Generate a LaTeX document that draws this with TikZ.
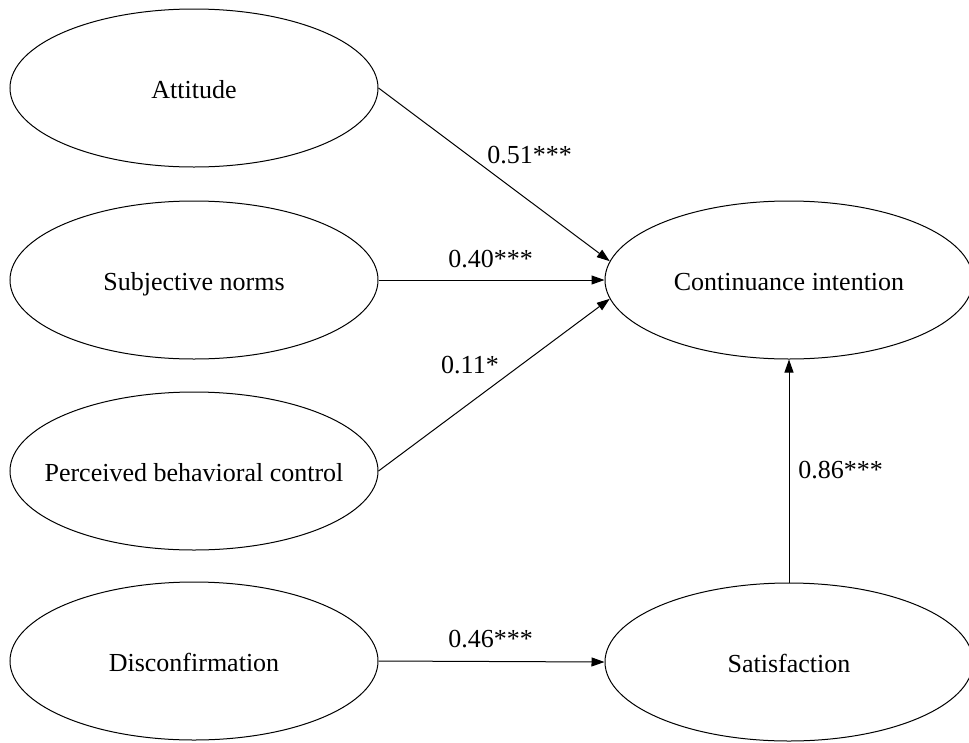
\documentclass[tikz,border=0pt]{standalone}
\usepackage{fontspec}
\setmainfont{Liberation Serif}
\usetikzlibrary{shapes.geometric,arrows.meta}
\newcommand{\ctrtext}[1]{\makebox[0pt][c]{#1}}
\begin{document}
\begin{tikzpicture}[x=1pt,y=-1pt,
  every node/.style={font=\fontsize{26}{31}\selectfont},
  latent/.style={ellipse,draw,line width=1pt,minimum width=368pt,minimum height=158pt,inner sep=0pt,text height=20pt,text depth=0pt},
  lbl/.style={inner sep=0pt,text height=17.6pt,text depth=0pt},
  path/.style={draw,line width=1pt,-{Triangle[length=13pt,width=9pt]}}]
\useasboundingbox (0,0) rectangle (969,742);
\node[latent] (att) at (194,88) {\ctrtext{Attitude}};
\node[latent] (sn) at (194,280) {\ctrtext{Subjective norms}};
\node[latent] (pbc) at (194,471) {\ctrtext{Perceived behavioral control}};
\node[latent] (dis) at (194,661) {\ctrtext{Disconfirmation}};
\node[latent] (ci) at (789,280) {\ctrtext{Continuance intention}};
\node[latent] (sat) at (789,662) {\ctrtext{Satisfaction}};
\draw[path] (att.east) -- (ci.174);
\draw[path] (sn.east) -- (ci.west);
\draw[path] (pbc.east) -- (ci.186);
\draw[path] (dis.east) -- (sat.west);
\draw[path] (sat.north) -- (ci.south);
\node[lbl] (l1) at (529.5,155) {0.51***};
\node[lbl] (l2) at (490.5,259) {0.40***};
\node[lbl] (l3) at (470,365) {0.11*};
\node[lbl] (l4) at (840.5,470) {0.86***};
\node[lbl] (l5) at (490.5,639) {0.46***};
\end{tikzpicture}
\end{document}
